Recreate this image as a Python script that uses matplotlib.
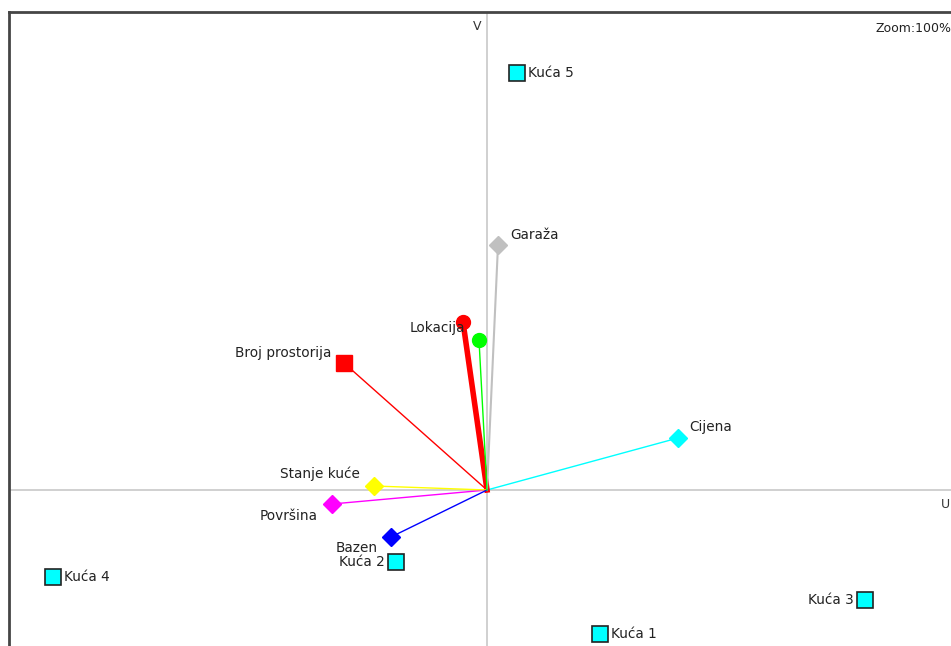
import matplotlib

matplotlib.use("Agg")
import matplotlib.pyplot as plt  # noqa: E402

# alternatives (actions) in the GAIA plane
houses = ["Kuća 1", "Kuća 2", "Kuća 3", "Kuća 4", "Kuća 5"]
house_u = [1.13, -0.91, 3.78, -4.34, 0.30]
house_v = [-1.44, -0.72, -1.10, -0.87, 4.17]

# criteria axes
crit = ["Cijena", "Površina", "Broj prostorija", "Lokacija", "Stanje kuće",
        "Garaža", "Bazen", ""]
crit_u = [1.91, -1.55, -1.43, -0.24, -1.13, 0.11, -0.96, -0.08]
crit_v = [0.52, -0.14, 1.27, 1.68, 0.04, 2.45, -0.47, 1.50]
crit_col = ["#00ffff", "#ff00ff", "#ff0000", "#ff0000", "#ffff00",
            "#c0c0c0", "#0000ff", "#00ff00"]
crit_mk = ["D", "D", "s", "o", "D", "D", "D", "o"]

W, H = 951, 646
fig = plt.figure(figsize=(W / 100, H / 100), dpi=100)
ax = fig.add_axes([9 / W, 0, 1 - 9 / W, (H - 12) / H])
ax.set_xlim(-4.78, 4.64)
ax.set_ylim(-1.56, 4.78)
ax.set_xticks([])
ax.set_yticks([])
for s in ["right", "bottom"]:
    ax.spines[s].set_visible(False)
for s in ["left", "top"]:
    ax.spines[s].set_color("#454545")
    ax.spines[s].set_linewidth(2)

ax.axhline(0, color="#c8c8c8", lw=1.2, zorder=1)
ax.axvline(0, color="#c8c8c8", lw=1.2, zorder=1)
ax.text(-0.06, 4.70, "V", fontsize=9, ha="right", va="top", color="#333333")
ax.text(4.54, -0.08, "U", fontsize=9, ha="left", va="top", color="#333333")
ax.text(1.0, 0.985, "Zoom:100%", transform=ax.transAxes, fontsize=9,
        ha="right", va="top", color="#222222")

# criteria lines + markers
ms = {"D": 9, "s": 11, "o": 10}
for name, u, v, c, m in zip(crit, crit_u, crit_v, crit_col, crit_mk):
    lw = 4 if name == "Lokacija" else (1.5 if name == "Garaža" else 1)
    ax.plot([0, u], [0, v], color=c, lw=lw, zorder=2)
    ax.plot(u, v, marker=m, ms=ms[m], color=c, mec=c, ls="none", zorder=3)

offsets = {
    "Cijena": (11, 11, "left"),
    "Površina": (-14, -12, "right"),
    "Broj prostorija": (-13, 10, "right"),
    "Lokacija": (2, -6, "right"),
    "Stanje kuće": (-14, 12, "right"),
    "Garaža": (12, 10, "left"),
    "Bazen": (-13, -11, "right"),
}
for name, u, v in zip(crit, crit_u, crit_v):
    if name in offsets:
        dx, dy, ha = offsets[name]
        ax.annotate(name, (u, v), xytext=(dx, dy), textcoords="offset pixels",
                    fontsize=9.8, ha=ha, va="center", color="#222222", zorder=4)

# alternatives
ax.plot(house_u, house_v, "s", ms=11, color="#00ffff", mec="#222222",
        mew=1.2, ls="none", zorder=3)
for name, u, v in zip(houses, house_u, house_v):
    left = name in ("Kuća 2", "Kuća 3")
    ax.annotate(name, (u, v), xytext=(-11 if left else 11, 0),
                textcoords="offset pixels", fontsize=9.8,
                ha="right" if left else "left", va="center",
                color="#222222", zorder=4)

fig.savefig("out.png", dpi=100)
